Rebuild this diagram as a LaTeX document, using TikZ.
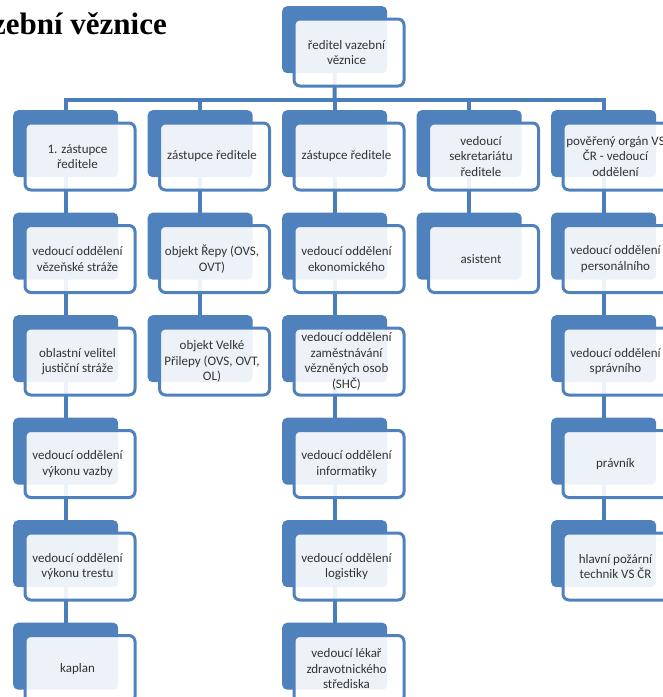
\documentclass[tikz,border=0pt]{standalone}
\usepackage{fontspec}
\setmainfont{Carlito}
\newfontfamily\titlefont{Liberation Serif}
\pgfdeclarelayer{bg}
\pgfsetlayers{bg,main}
\definecolor{orgblue}{HTML}{4F81BD}
\definecolor{lineblue}{HTML}{4A7EBB}
\definecolor{txtgray}{HTML}{333333}
\tikzset{
  backbox/.style={fill=orgblue, rounded corners=5pt, minimum width=105pt, minimum height=67pt, inner sep=0pt, anchor=north west},
  frontbox/.style={fill=white, fill opacity=0.9, draw=orgblue, line width=3pt, rounded corners=6pt, minimum width=110pt, minimum height=67pt, inner sep=0pt, anchor=north west},
  boxtext/.style={align=center, text=txtgray, font=\fontsize{13}{15.5}\selectfont, inner sep=0pt},
  conn/.style={draw=lineblue, line width=4pt},
  titletext/.style={font=\titlefont\bfseries\fontsize{31}{36}\selectfont, anchor=base east, inner sep=0pt}
}
\newcommand\orgbox[4]{%
  \node[backbox] (#1b) at (#2,-#3) {};
  \node[frontbox] (#1) at ([xshift=10.5pt,yshift=-11.5pt]#1b.north west) {};
  \node[boxtext] (#1t) at ([xshift=-2.5pt]#1.center) {#4};
}
\begin{document}
\begin{tikzpicture}[x=1pt,y=1pt]
\useasboundingbox (0,0) rectangle (663,-697);
\node[titletext] (title) at (167,-34.5) {Vazební věznice};
% top
\orgbox{top}{282}{6}{ředitel vazební\\věznice}
% column 1
\orgbox{aa}{13}{110}{1. zástupce\\ředitele}
\orgbox{ab}{13}{212.5}{vedoucí oddělení\\vězeňské stráže}
\orgbox{ac}{13}{315}{oblastní velitel\\justiční stráže}
\orgbox{ad}{13}{417.5}{vedoucí oddělení\\výkonu vazby}
\orgbox{ae}{13}{520}{vedoucí oddělení\\výkonu trestu}
\orgbox{af}{13}{622.5}{kaplan}
% column 2
\orgbox{ba}{147.5}{110}{zástupce ředitele}
\orgbox{bb}{147.5}{212.5}{objekt Řepy (OVS,\\OVT)}
\orgbox{bc}{147.5}{315}{objekt Velké\\Přilepy (OVS, OVT,\\OL)}
% column 3
\orgbox{ca}{282}{110}{zástupce ředitele}
\orgbox{cb}{282}{212.5}{vedoucí oddělení\\ekonomického}
\orgbox{cc}{282}{315}{vedoucí oddělení\\zaměstnávání\\vězněných osob\\(SHČ)}
\orgbox{cd}{282}{417.5}{vedoucí oddělení\\informatiky}
\orgbox{ce}{282}{520}{vedoucí oddělení\\logistiky}
\orgbox{cf}{282}{622.5}{vedoucí lékař\\zdravotnického\\střediska}
% column 4
\orgbox{da}{416.5}{110}{vedoucí\\sekretariátu\\ředitele}
\orgbox{db}{416.5}{212.5}{asistent}
% column 5
\orgbox{ea}{551}{110}{pověřený orgán VS\\ČR - vedoucí\\oddělení}
\orgbox{eb}{551}{212.5}{vedoucí oddělení\\personálního}
\orgbox{ec}{551}{315}{vedoucí oddělení\\správního}
\orgbox{ed}{551}{417.5}{právník}
\orgbox{ee}{551}{520}{hlavní požární\\technik VS ČR}
\begin{pgfonlayer}{bg}
  \coordinate (bus) at (334.5,-99.5);
  \draw[conn] (topb.center) -- (bus);
  \foreach \c in {aa,ba,ca,da,ea} \draw[conn] (\c b.center) |- (bus);
  \draw[conn] (aab.center) -- (abb.center) -- (acb.center) -- (adb.center) -- (aeb.center) -- (afb.center);
  \draw[conn] (bab.center) -- (bbb.center) -- (bcb.center);
  \draw[conn] (cab.center) -- (cbb.center) -- (ccb.center) -- (cdb.center) -- (ceb.center) -- (cfb.center);
  \draw[conn] (dab.center) -- (dbb.center);
  \draw[conn] (eab.center) -- (ebb.center) -- (ecb.center) -- (edb.center) -- (eeb.center);
\end{pgfonlayer}
\end{tikzpicture}
\end{document}
